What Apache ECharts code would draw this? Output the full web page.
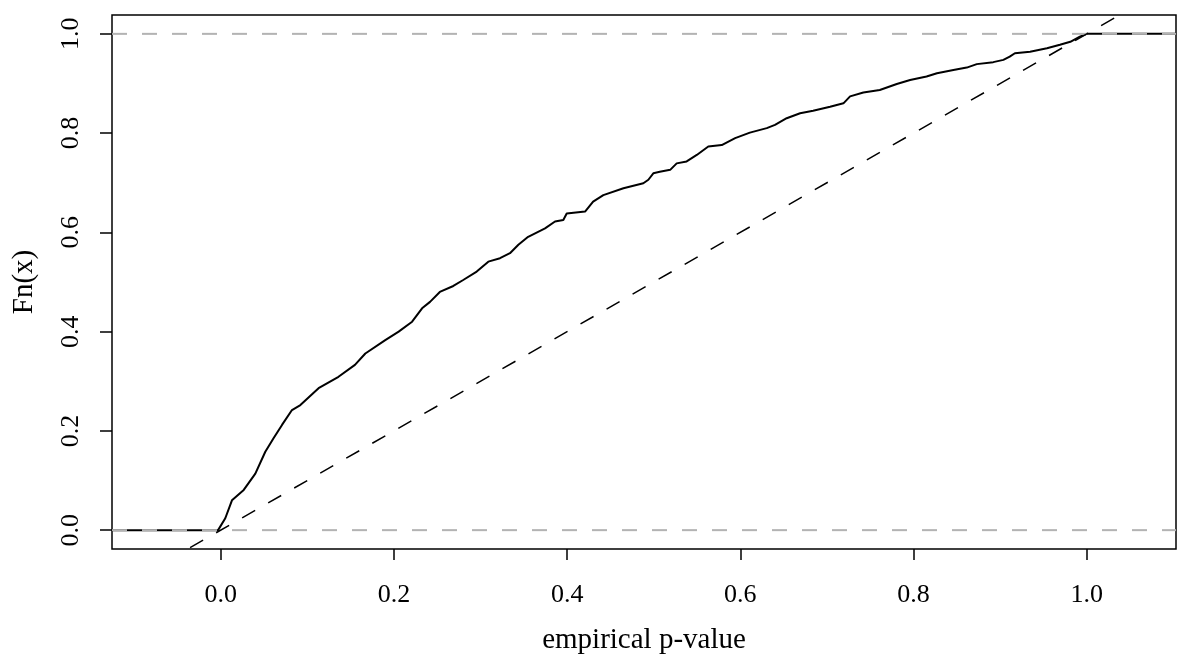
<!DOCTYPE html>
<html>
<head>
<meta charset="utf-8">
<title>Fn(x)</title>
<script src="https://cdn.jsdelivr.net/npm/echarts@6/dist/echarts.min.js"></script>
<style>
  html, body { margin: 0; padding: 0; background: #ffffff; }
  #chart { width: 1187px; height: 657px; }
</style>
</head>
<body>
<div id="chart"></div>
<script>
// Empirical CDF of the p-values: jump locations and cumulative proportions
const pValues = [
  -0.003, 0.0053, 0.013, 0.0266, 0.040, 0.0515, 0.061, 0.0708, 0.0823, 0.092,
  0.113, 0.136, 0.155, 0.167, 0.190, 0.2055, 0.221, 0.2325, 0.2417, 0.253,
  0.2686, 0.280, 0.2956, 0.309, 0.3225, 0.334, 0.3437, 0.355, 0.3745, 0.386,
  0.3956, 0.3995, 0.4207, 0.430, 0.4418, 0.465, 0.488, 0.4938, 0.4995, 0.507,
  0.519, 0.5265, 0.538, 0.5497, 0.563, 0.5785, 0.594, 0.611, 0.6305, 0.640,
  0.6535, 0.669, 0.684, 0.7036, 0.719, 0.7267, 0.742, 0.761, 0.7806, 0.796,
  0.815, 0.827, 0.846, 0.8614, 0.873, 0.892, 0.9037, 0.911, 0.917, 0.9345,
  0.954, 0.969, 0.981, 0.992, 1.0
];
const cumProp = [
  0.000, 0.024, 0.060, 0.081, 0.114, 0.158, 0.185, 0.212, 0.242, 0.252,
  0.286, 0.309, 0.333, 0.356, 0.383, 0.400, 0.420, 0.447, 0.460, 0.480,
  0.492, 0.504, 0.521, 0.541, 0.548, 0.558, 0.575, 0.591, 0.608, 0.622,
  0.625, 0.638, 0.642, 0.662, 0.675, 0.689, 0.699, 0.706, 0.719, 0.722,
  0.726, 0.739, 0.743, 0.756, 0.773, 0.776, 0.790, 0.801, 0.810, 0.8165,
  0.830, 0.840, 0.845, 0.853, 0.860, 0.874, 0.882, 0.887, 0.899, 0.907,
  0.914, 0.9207, 0.927, 0.932, 0.939, 0.943, 0.9476, 0.954, 0.961, 0.964,
  0.971, 0.978, 0.984, 0.9945, 1.0
];

// Axis limits and tick values
const xLimits = [-0.1255, 1.103];
const yLimits = [-0.038, 1.038];
const xTicks = [0.0, 0.2, 0.4, 0.6, 0.8, 1.0];
const yTicks = [0.0, 0.2, 0.4, 0.6, 0.8, 1.0];
// Reference levels (dashed grey) and the identity line
const refLevels = [0, 1];

const FONT = '"Liberation Serif", "Times New Roman", serif';

// ECDF path: flat at 0 before the first jump, flat at 1 after the last
const ecdfData = [[xLimits[0], 0]]
  .concat(pValues.map((x, i) => [x, cumProp[i]]))
  .concat([[xLimits[1], 1]]);

const refSeries = refLevels.map(level => ({
  type: 'line',
  data: [[xLimits[0], level], [xLimits[1], level]],
  symbol: 'none',
  silent: true,
  z: 3,
  lineStyle: { color: '#b3b3b3', width: 2, type: [15, 15] }
}));

const chart = echarts.init(document.getElementById('chart'), null, { renderer: 'canvas' });

chart.setOption({
  backgroundColor: '#ffffff',
  animation: false,
  grid: {
    left: 112, right: 11, top: 15, bottom: 108,
    outerBoundsMode: 'none',
    containLabel: false,
    show: true, borderColor: '#000000', borderWidth: 1.5,
    backgroundColor: 'transparent'
  },
  xAxis: {
    type: 'value',
    position: 'bottom',
    min: xLimits[0],
    max: xLimits[1],
    name: 'empirical p-value',
    nameLocation: 'middle',
    nameGap: 77,
    nameTextStyle: { fontFamily: FONT, fontSize: 29, color: '#000000' },
    axisLine: { show: false, onZero: false },
    splitLine: { show: false },
    axisTick: {
      show: true, length: 11, inside: false,
      customValues: xTicks,
      lineStyle: { color: '#000000', width: 1.5 }
    },
    axisLabel: {
      customValues: xTicks,
      margin: 33,
      fontFamily: FONT, fontSize: 26, color: '#000000',
      formatter: v => v.toFixed(1)
    }
  },
  yAxis: {
    type: 'value',
    position: 'left',
    min: yLimits[0],
    max: yLimits[1],
    name: 'Fn(x)',
    nameLocation: 'middle',
    nameGap: 73,
    nameRotate: 90,
    nameTextStyle: { fontFamily: FONT, fontSize: 29, color: '#000000' },
    axisLine: { show: false, onZero: false },
    splitLine: { show: false },
    axisTick: {
      show: true, length: 12, inside: false,
      customValues: yTicks,
      lineStyle: { color: '#000000', width: 1.5 }
    },
    axisLabel: {
      customValues: yTicks,
      rotate: 90,
      margin: 28,
      fontFamily: FONT, fontSize: 26, color: '#000000',
      formatter: v => v.toFixed(1)
    }
  },
  series: [
    {
      type: 'line',
      data: ecdfData,
      symbol: 'none',
      silent: true,
      z: 2,
      lineStyle: { color: '#000000', width: 2 }
    },
    ...refSeries,
    {
      type: 'line',
      data: [[xLimits[0], xLimits[0]], [xLimits[1], xLimits[1]]],
      symbol: 'none',
      silent: true,
      z: 4,
      lineStyle: { color: '#000000', width: 1.5, type: [15, 15] }
    }
  ]
});
</script>
</body>
</html>
